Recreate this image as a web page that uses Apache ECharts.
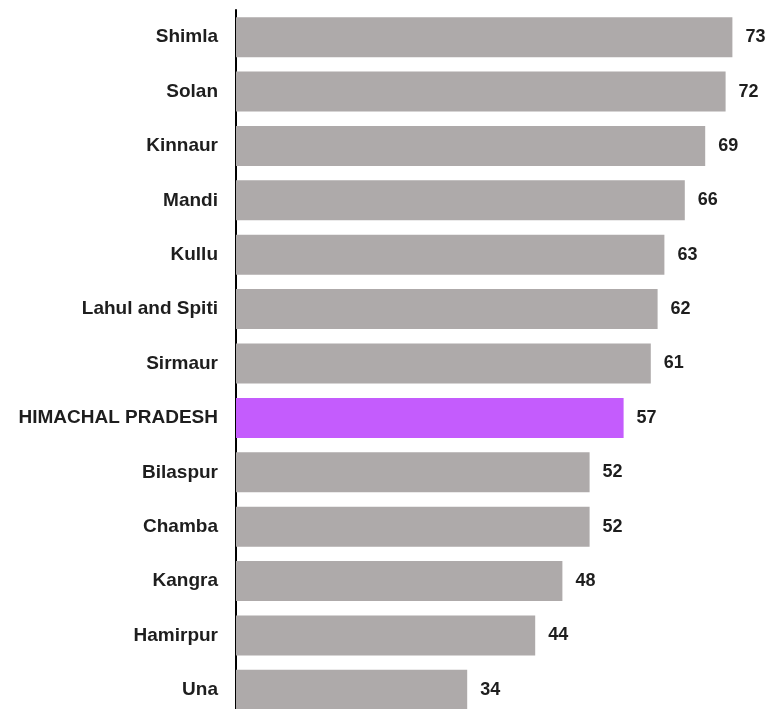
<!DOCTYPE html>
<html><head><meta charset="utf-8">
<script src="https://cdn.jsdelivr.net/npm/echarts@6/dist/echarts.min.js"></script>
<style>html,body{margin:0;padding:0;background:#fff;overflow:hidden}#c{width:769px;height:720px}</style>
</head><body><div id="c"></div>
<script>
const categories = ["Shimla","Solan","Kinnaur","Mandi","Kullu","Lahul and Spiti","Sirmaur","HIMACHAL PRADESH","Bilaspur","Chamba","Kangra","Hamirpur","Una"];
const values = [73,72,69,66,63,62,61,57,52,52,48,44,34];
const highlight = "HIMACHAL PRADESH";
const grayColor = "#aeaaaa";
const highlightColor = "#c45cfd";

const chart = echarts.init(document.getElementById('c'), null, {renderer:'canvas'});
chart.setOption({
  animation:false,
  grid:{left:236, width:510, top:10, height:707, containLabel:false},
  xAxis:{type:'value', min:0, max:75, show:false},
  yAxis:{type:'category', data:categories, inverse:true,
    axisLine:{show:true, lineStyle:{color:'#000', width:2}},
    axisTick:{show:false},
    axisLabel:{margin:18, fontFamily:'Liberation Sans, Arial, sans-serif', fontWeight:'bold', fontSize:19, color:'#1e1e1e'}
  },
  series:[{type:'bar', barWidth:40,
    data: values.map((v,i)=>({value:v, itemStyle:{color: categories[i]===highlight?highlightColor:grayColor}})),
    label:{show:true, position:'right', distance:13, fontFamily:'Liberation Sans, Arial, sans-serif', fontWeight:'bold', fontSize:18, color:'#1e1e1e'}
  }]
});
</script></body></html>
